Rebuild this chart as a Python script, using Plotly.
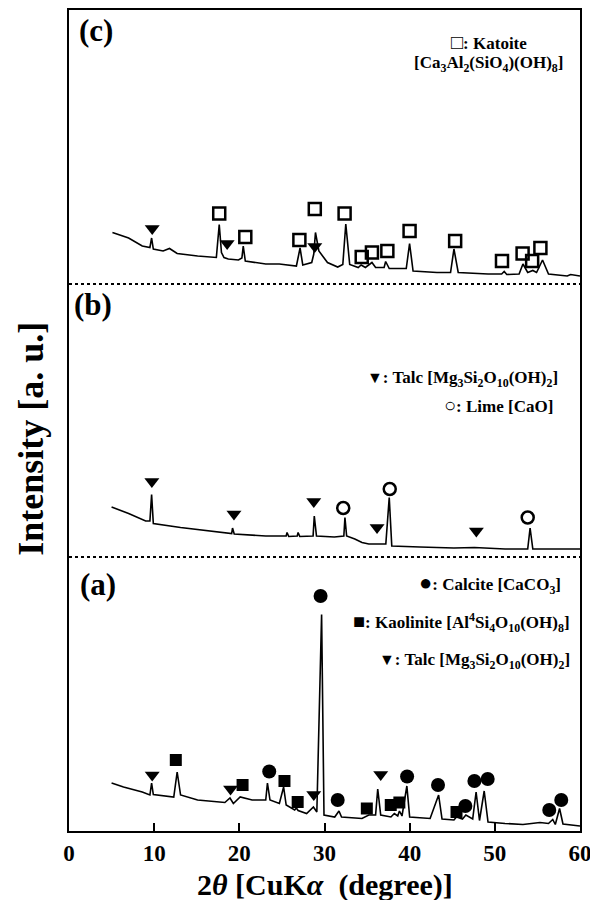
import plotly.graph_objects as go

# ---------------- data (2theta in degrees, intensity in a.u. with stacking offset) -------------
a_x = [5.0, 6.4, 8.6, 9.5, 9.7, 9.9, 12.3, 12.7, 13.1, 15.1, 18.3, 18.9, 19.3, 20.1, 21.5, 23.1,
       23.3, 23.6, 24.7, 25.2, 25.5, 26.5, 26.7, 26.9, 27.9, 28.7, 29.1, 29.66, 29.94, 31.2, 31.7,
       32.0, 34.4, 35.2, 36.0, 36.25, 36.6, 37.8, 38.2, 38.6, 38.8, 39.1, 39.67, 40.0, 42.4, 43.4,
       43.8, 45.2, 45.5, 46.2, 46.6, 47.4, 47.8, 48.2, 48.75, 49.2, 51.2, 53.3, 55.3, 56.3, 56.8,
       57.1, 57.6, 58.0, 60.0]
a_y = [48, 44, 39, 36, 48, 36.5, 34, 59, 36, 31, 28.5, 33, 27.5, 34, 31, 31,
       48, 31, 27.5, 44, 26, 21, 23, 20.5, 17.5, 24, 19, 216.5, 16, 14, 20,
       14, 12.5, 16, 16, 42, 16, 14, 17.5, 15, 20, 15, 45, 14, 12.5, 36,
       12, 11, 14, 12, 16, 12, 39, 10.5, 40, 9, 7.5, 6.5, 8.5, 7.5, 11.5,
       6.5, 22.5, 7, 5]

b_x = [5.0, 7.0, 9.0, 9.5, 9.7, 9.9, 13.1, 17.1, 19.1, 19.2, 19.4, 23.1, 25.5, 25.6, 25.8, 26.8,
       26.9, 27.1, 28.66, 28.8, 29.06, 31.15, 32.27, 32.4, 32.6, 33.56, 34.4, 35.2, 37.2, 37.6,
       37.9, 41.2, 45.2, 47.6, 51.2, 53.86, 54.14, 54.46, 57.3, 60.0]
b_y = [324, 317.5, 310, 310, 336.5, 307.5, 303.5, 299.5, 297.5, 303, 297, 295, 295, 298.5, 294.5, 295,
       298.5, 294.5, 295, 315, 295, 294, 295, 313.5, 295, 292, 288.5, 287, 287, 333.5,
       285, 284, 283, 283.5, 282, 282, 303, 282, 282, 282]

c_x = [5.1, 7.0, 8.6, 9.5, 9.7, 9.9, 11.05, 11.8, 12.7, 15.1, 17.3, 17.64, 17.9, 18.2, 18.7, 19.9,
       20.3, 20.46, 20.7, 23.1, 24.7, 26.7, 27.13, 27.45, 28.5, 28.74, 28.94, 29.34, 30.35, 31.55,
       32.15, 32.5, 32.96, 33.96, 34.3, 34.8, 35.57, 36.0, 37.0, 37.18, 37.6, 39.6, 39.99, 40.4,
       43.2, 44.8, 45.2, 45.7, 49.2, 50.8, 51.1, 51.4, 52.85, 53.3, 53.86, 54.46, 54.9, 55.6, 56.3,
       58.5, 58.9, 60.0]
c_y = [598.5, 593, 585, 583.5, 593, 582, 580, 582.5, 577.5, 575, 573.5, 606.5, 578.5, 573.5, 572, 571,
       573, 585, 570, 567, 567, 565, 583, 566, 568.5, 577, 598.5, 580, 568.5, 564,
       566.5, 607, 566.5, 563.5, 566, 563.5, 568.5, 563.5, 563.5, 569.5, 562.5, 562.5, 587.5, 560,
       558.5, 558.5, 582, 558.5, 557, 557, 559.5, 556.5, 557, 567, 558.5, 560.5, 558.5, 571, 557,
       555, 556.5, 555]

# phase markers (position, height)
a_talc_x = [9.77, 18.97, 28.74, 36.6]
a_talc_y = [56, 42, 36.5, 56.5]
a_kaol_x = [12.54, 20.38, 25.3, 26.85, 34.97, 37.78, 38.79, 45.5]
a_kaol_y = [71, 46, 50, 29, 22.5, 26, 28.5, 19]
a_calc_x = [23.51, 29.54, 31.55, 39.7, 43.33, 46.54, 47.6, 49.16, 56.39, 57.8]
a_calc_y = [59.5, 235, 31, 54.5, 46, 25, 50, 52, 21, 31]

b_talc_x = [9.73, 19.37, 28.74, 36.17, 47.83]
b_talc_y = [349.5, 317, 329.5, 303.5, 300]
b_lime_x = [32.2, 37.66, 53.86]
b_lime_y = [323, 342, 313.5]

c_talc_x = [9.77, 18.57, 28.86]
c_talc_y = [602.5, 587.5, 584.5]
c_kato_x = [17.64, 20.7, 27.05, 28.86, 32.36, 34.37, 35.57, 37.38, 39.99, 45.34, 50.84, 53.26, 54.38, 55.35]
c_kato_y = [617.5, 594, 591, 622, 617.5, 574, 578.5, 580, 600, 590, 570, 577.5, 570, 583]

separators = [274, 547]
x_ticks = [0, 10, 20, 30, 40, 50, 60]

FONT = "Liberation Serif"

fig = go.Figure()
for xs, ys in [(a_x, a_y), (b_x, b_y), (c_x, c_y)]:
    fig.add_trace(go.Scatter(x=xs, y=ys, mode="lines",
                             line=dict(color="black", width=1.6), showlegend=False))

def add_markers(xs, ys, symbol, size, lw=0):
    fig.add_trace(go.Scatter(x=xs, y=ys, mode="markers", showlegend=False,
                             marker=dict(symbol=symbol, size=size, color="black",
                                         line=dict(color="black", width=lw))))

add_markers(a_talc_x, a_talc_y, "triangle-down", 13)
add_markers(a_kaol_x, a_kaol_y, "square", 12)
add_markers(a_calc_x, a_calc_y, "circle", 14)
add_markers(b_talc_x, b_talc_y, "triangle-down", 13)
add_markers(b_lime_x, b_lime_y, "circle-open", 12, 2.5)
add_markers(c_talc_x, c_talc_y, "triangle-down", 13)
add_markers(c_kato_x, c_kato_y, "square-open", 12, 2.5)

for yv in separators:
    fig.add_shape(type="line", x0=0, x1=60, y0=yv, y1=yv, xref="x", yref="y",
                  line=dict(color="black", width=1.8, dash="dot"))

def ann(text, x, y, size=17, xanchor="right"):
    fig.add_annotation(text=text, x=x, y=y, xref="x", yref="y", showarrow=False,
                       xanchor=xanchor, yanchor="middle",
                       font=dict(family=FONT, size=size, color="black"))

def glyph(ch, size=20):
    return f'<span style="font-size:{size}px">{ch}</span>'

ann("<b>(a)</b>", 1.0, 247, 31, "left")
ann("<b>(b)</b>", 0.4, 527, 31, "left")
ann("<b>(c)</b>", 0.9, 801, 31, "left")

ann("<b>" + glyph("●", 22) + ": Calcite [CaCO<sub>3</sub>]</b>", 58.0, 248)
ann("<b>" + glyph("■", 20) + ": Kaolinite [Al<sup>4</sup>Si<sub>4</sub>O<sub>10</sub>(OH)<sub>8</sub>]</b>", 59.1, 209)
ann("<b>" + glyph("▼", 16) + ": Talc [Mg<sub>3</sub>Si<sub>2</sub>O<sub>10</sub>(OH)<sub>2</sub>]</b>", 59.1, 170)
ann("<b>" + glyph("▼", 16) + ": Talc [Mg<sub>3</sub>Si<sub>2</sub>O<sub>10</sub>(OH)<sub>2</sub>]</b>", 57.6, 452)
ann("<b>" + glyph("○", 20) + ": Lime [CaO]</b>", 57.1, 426)
ann("<b>" + glyph("□", 20) + ": Katoite</b>", 49.3, 789, 17, "center")
ann("<b>[Ca<sub>3</sub>Al<sub>2</sub>(SiO<sub>4</sub>)(OH)<sub>8</sub>]</b>", 49.3, 767, 17, "center")

# axis titles
fig.add_annotation(text="<b>Intensity [a. u.]</b>", xref="paper", yref="paper",
                   x=-0.076, y=0.478, textangle=-90, showarrow=False,
                   xanchor="center", yanchor="middle",
                   font=dict(family=FONT, size=36, color="black"))
fig.add_annotation(text="<b>2<i>θ</i> [CuK<i>α</i>  (degree)]</b>", xref="paper", yref="paper",
                   x=0.5, y=-0.066, showarrow=False, xanchor="center", yanchor="middle",
                   font=dict(family=FONT, size=30, color="black"))

# page body has an 8px default margin, so the figure is sized to fit inside the window
fig.update_layout(
    width=590, height=892,
    margin=dict(l=61, r=18, t=2, b=69),
    paper_bgcolor="white", plot_bgcolor="white",
    font=dict(family=FONT, color="black"),
    showlegend=False,
    xaxis=dict(range=[0, 60], tickvals=x_ticks, ticktext=[f"<b>{v}</b>" for v in x_ticks],
               ticks="inside", ticklen=8, tickwidth=1.5, tickcolor="black",
               showline=True, linewidth=2, linecolor="black", mirror=True,
               showgrid=False, zeroline=False, automargin=False,
               tickfont=dict(family=FONT, size=23, color="black")),
    yaxis=dict(range=[0, 821], showticklabels=False, ticks="",
               showline=True, linewidth=2, linecolor="black", mirror=True,
               showgrid=False, zeroline=False, automargin=False),
)

fig.write_html("out.html")
